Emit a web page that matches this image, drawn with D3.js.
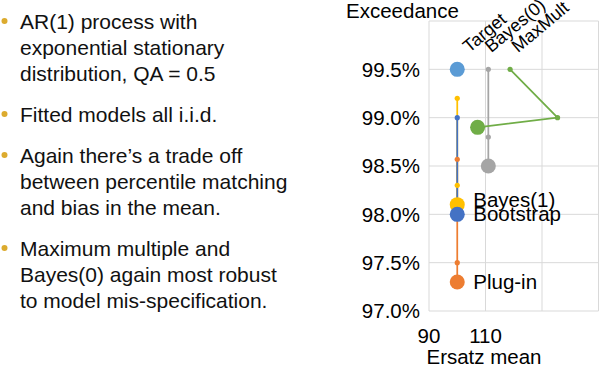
<!DOCTYPE html>
<html>
<head>
<meta charset="utf-8">
<script src="https://cdn.jsdelivr.net/npm/d3@7"></script>
<style>
  body { margin: 0; background: #fff; }
  svg { display: block; font-family: "Liberation Sans", Arial, Helvetica, sans-serif; }
</style>
</head>
<body>
<script>
// bullet points on the left
const bullets = [
    ["AR(1) process with", "exponential stationary", "distribution, QA = 0.5"],
    ["Fitted models all i.i.d."],
    ["Again there\u2019s a trade off", "between percentile matching", "and bias in the mean."],
    ["Maximum multiple and", "Bayes(0) again most robust", "to model mis-specification."]
];

// axis ticks
const xTicks = [90, 110, 130, 150];
const xTickLabels = ["90", "110", "", ""];
const yTicks = [97.0, 97.5, 98.0, 98.5, 99.0, 99.5, 100.0];
const yTickLabels = ["97.0%", "97.5%", "98.0%", "98.5%", "99.0%", "99.5%", ""];

// series: [ersatz mean, exceedance %], last point is the big marker
const plugIn = [[100, 98.57], [100, 97.5], [100, 97.3]];
const bayes1 = [[100, 99.2], [100, 98.3], [100, 98.1]];
const bootstrap = [[100, 99.0], [100, 98.0]];
const bayes0 = [[111, 99.5], [111, 98.8], [111, 98.5]];
const maxMult = [[118.7, 99.5], [135.5, 99.0], [107.2, 98.9]];
const target = [[100, 99.5]];

const series = [
    {name: "Plug-in", pts: plugIn, color: "#ed7d31", label: "end"},
    {name: "Bayes(1)", pts: bayes1, color: "#ffc000", label: "end"},
    {name: "Bootstrap", pts: bootstrap, color: "#4472c4", label: "end"},
    {name: "Bayes(0)", pts: bayes0, color: "#a5a5a5", label: "top"},
    {name: "MaxMult", pts: maxMult, color: "#70ad47", label: "top"},
    {name: "Target", pts: target, color: "#5b9bd5", label: "top"}
];

const W = 600, H = 369;
const svg = d3.select("body").append("svg")
    .attr("width", W)
    .attr("height", H);

// ---- bullets ----
const lineH = 26, paraGap = 15;
let yy = 28.5;
bullets.forEach(function (lines) {
    svg.append("circle")
        .attr("cx", 4.5)
        .attr("cy", yy - 7.5)
        .attr("r", 3)
        .attr("fill", "#dcab2e");
    lines.forEach(function (t) {
        svg.append("text")
            .attr("x", 20)
            .attr("y", yy)
            .attr("font-size", 21)
            .attr("fill", "#111")
            .text(t);
        yy += lineH;
    });
    yy += paraGap;
});

// ---- chart ----
const x = d3.scaleLinear().domain([90, 150]).range([429, 598.5]);
const y = d3.scaleLinear().domain([97, 100]).range([311, 21]);

// gridlines
svg.append("g")
    .selectAll("line")
    .data(xTicks)
    .join("line")
    .attr("x1", d => x(d)).attr("x2", d => x(d))
    .attr("y1", y(97)).attr("y2", y(100))
    .attr("stroke", "#d9d9d9").attr("stroke-width", 1);
svg.append("g")
    .selectAll("line")
    .data(yTicks)
    .join("line")
    .attr("x1", x(90)).attr("x2", x(150))
    .attr("y1", d => y(d)).attr("y2", d => y(d))
    .attr("stroke", "#d9d9d9").attr("stroke-width", 1);

// tick labels (only the ones that carry text)
svg.append("g")
    .selectAll("text")
    .data(yTicks.filter((d, i) => yTickLabels[i] !== ""))
    .join("text")
    .attr("x", x(90) - 9)
    .attr("y", d => y(d))
    .attr("dy", "0.36em")
    .attr("text-anchor", "end")
    .attr("font-size", 20.5)
    .text(d => yTickLabels[yTicks.indexOf(d)]);
svg.append("g")
    .selectAll("text")
    .data(xTicks.filter((d, i) => xTickLabels[i] !== ""))
    .join("text")
    .attr("x", d => x(d))
    .attr("y", 343)
    .attr("text-anchor", "middle")
    .attr("font-size", 20.5)
    .text(d => xTickLabels[xTicks.indexOf(d)]);

// axis titles
svg.append("text")
    .attr("x", 346)
    .attr("y", 18)
    .attr("font-size", 20.5)
    .text("Exceedance");
svg.append("text")
    .attr("x", 484)
    .attr("y", 364)
    .attr("text-anchor", "middle")
    .attr("font-size", 20.5)
    .text("Ersatz mean");

// lines
const line = d3.line().x(d => x(d[0])).y(d => y(d[1]));
series.forEach(function (s) {
    if (s.pts.length < 2) return;
    svg.append("path")
        .attr("d", line(s.pts))
        .attr("fill", "none")
        .attr("stroke", s.color)
        .attr("stroke-width", 1.75);
});

// markers
series.forEach(function (s) {
    svg.append("g")
        .selectAll("circle")
        .data(s.pts)
        .join("circle")
        .attr("cx", d => x(d[0]))
        .attr("cy", d => y(d[1]))
        .attr("r", (d, i) => i === s.pts.length - 1 ? 7.5 : 2.6)
        .attr("fill", s.color);
});

// labels next to the end markers
const endDy = {"Plug-in": 7, "Bayes(1)": 2, "Bootstrap": 7};
series.filter(s => s.label === "end").forEach(function (s) {
    const p = s.pts[s.pts.length - 1];
    svg.append("text")
        .attr("x", x(p[0]) + 16)
        .attr("y", y(p[1]) + endDy[s.name])
        .attr("font-size", 20.5)
        .text(s.name);
});

// rotated labels above the top markers
const topDx = {"Target": 12, "Bayes(0)": 3, "MaxMult": 8};
series.filter(s => s.label === "top").forEach(function (s) {
    const p = s.pts[0];
    const lx = x(p[0]) + topDx[s.name], ly = y(p[1]) - 16;
    svg.append("text")
        .attr("transform", `translate(${lx}, ${ly}) rotate(-40)`)
        .attr("font-size", 18)
        .text(s.name);
});
</script>
</body>
</html>
